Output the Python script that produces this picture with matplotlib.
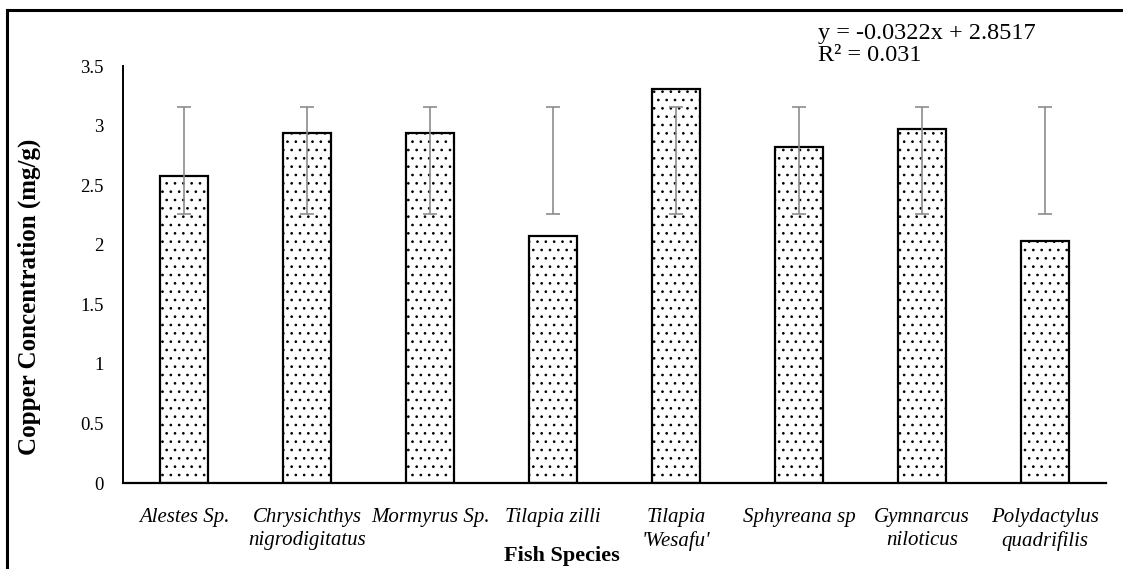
import numpy as np
import matplotlib
matplotlib.use("Agg")
import matplotlib.pyplot as plt
from matplotlib.lines import Line2D

plt.rcParams['font.family'] = ['Liberation Serif', 'DejaVu Serif']
plt.rcParams['hatch.linewidth'] = 0.7
plt.rcParams['hatch.color'] = '#444444'

species = ["Alestes Sp.", "Chrysichthys\nnigrodigitatus", "Mormyrus Sp.", "Tilapia zilli",
           "Tilapia\n'Wesafu'", "Sphyreana sp", "Gymnarcus\nniloticus", "Polydactylus\nquadrifilis"]
copper = [2.58, 2.94, 2.94, 2.07, 3.31, 2.82, 2.97, 2.03]
yticks = [0, 0.5, 1, 1.5, 2, 2.5, 3, 3.5]
ytick_labels = ["0", "0.5", "1", "1.5", "2", "2.5", "3", "3.5"]
trend_text = "y = -0.0322x + 2.8517\nR\u00b2 = 0.031"

fig = plt.figure(figsize=(11.23, 5.69), dpi=100)
ax = fig.add_axes([0.1095, 0.151, 0.8755, 0.733])

x = np.arange(len(species))
ax.bar(x, copper, width=0.39, facecolor="white", edgecolor="black",
       linewidth=1.6, hatch="..", zorder=2)

# excel style "standard deviation" error bars: centred on the series mean
mean = np.mean(copper)
sd = np.std(copper, ddof=1)
ax.errorbar(x, [mean] * len(x), yerr=sd, fmt="none", ecolor="#8c8c8c",
            elinewidth=1.2, capsize=5, capthick=1.2, zorder=3)

ax.set_xlim(-0.5, len(species) - 0.5)
ax.set_ylim(0, 3.5)
ax.set_yticks(yticks)
ax.set_yticklabels(ytick_labels, fontsize=13.5)
ax.set_xticks(x)
ax.set_xticklabels(species, fontsize=15, style="italic", linespacing=1.25)
ax.tick_params(axis="y", length=0, pad=14)
ax.tick_params(axis="x", length=0, pad=18)
for s in ["top", "right"]:
    ax.spines[s].set_visible(False)
ax.spines["left"].set_linewidth(1.4)
ax.spines["bottom"].set_linewidth(1.6)

ax.set_ylabel("Copper Concentration (mg/g)", fontsize=18, fontweight="bold")
ax.yaxis.set_label_coords(-0.083, 0.446)
fig.text(0.5, 0.006, "Fish Species", ha="center", va="bottom", fontsize=16, fontweight="bold")

fig.text(0.728, 0.884, trend_text, ha="left", va="bottom", fontsize=17.5, linespacing=1.08)

# cell border of the source document
fig.add_artist(Line2D([0.0065, 1.0], [0.982, 0.982], color="black", lw=2.2, transform=fig.transFigure))
fig.add_artist(Line2D([0.0065, 0.0065], [0.0, 0.982], color="black", lw=2.2, transform=fig.transFigure))

fig.savefig("out.png", dpi=100)
